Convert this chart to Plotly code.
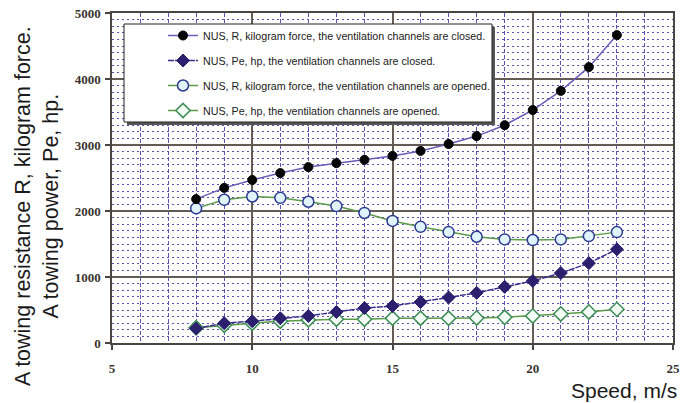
import plotly.graph_objects as go

# ---------------- data ----------------
speed = [8, 9, 10, 11, 12, 13, 14, 15, 16, 17, 18, 19, 20, 21, 22, 23]
r_closed = [2180, 2350, 2470, 2575, 2665, 2725, 2775, 2835, 2910, 3015, 3135, 3300, 3530, 3820, 4180, 4665]
pe_closed = [220, 300, 330, 375, 410, 470, 530, 560, 620, 690, 760, 850, 940, 1060, 1210, 1420]
r_opened = [2040, 2170, 2220, 2200, 2140, 2075, 1970, 1850, 1760, 1680, 1610, 1570, 1560, 1570, 1620, 1680]
pe_opened = [230, 270, 300, 330, 350, 360, 360, 375, 375, 375, 380, 390, 410, 440, 470, 510]

names = [
    "NUS, R, kilogram force, the ventilation channels are closed.",
    "NUS, Pe, hp, the ventilation channels are closed.",
    "NUS, R, kilogram force, the ventilation channels are opened.",
    "NUS, Pe, hp, the ventilation channels are opened.",
]
x_ticks = [5, 10, 15, 20, 25]
y_ticks = [0, 1000, 2000, 3000, 4000, 5000]
y_title = "A towing resistance R, kilogram force.<br>A towing power, Pe, hp."
x_title = "Speed, m/s"

# ---------------- layout helpers ----------------
W, H = 694, 403
L, R, T, B = 112, 673, 13, 343


def px_x(p):
    return (p - L) / (R - L)


def px_y(p):
    return (B - p) / (B - T)


fig = go.Figure()

styles = [
    dict(line=dict(color="#6a5cb8", width=1.5),
         marker=dict(symbol="circle", size=9, color="#050505", line=dict(color="#050505", width=1))),
    dict(line=dict(color="#3a2e8c", width=1.5, dash="6px,1px"),
         marker=dict(symbol="diamond", size=10, color="#2b1f6e", line=dict(color="#2b1f6e", width=1))),
    dict(line=dict(color="#5a9a48", width=1.5),
         marker=dict(symbol="circle", size=11, color="#e2f4fb", line=dict(color="#2d3c92", width=1.5))),
    dict(line=dict(color="#5a9a48", width=1.5),
         marker=dict(symbol="diamond", size=11, color="#f2fbf4", line=dict(color="#3c8c55", width=1.5))),
]
series = [r_closed, pe_closed, r_opened, pe_opened]
order = [3, 2, 1, 0]
for i in order:
    fig.add_trace(go.Scatter(
        x=speed, y=series[i], mode="lines+markers", name=names[i],
        legendgroup="g%d" % i, legendrank=i + 1,
        line=styles[i]["line"], marker=styles[i]["marker"],
    ))

grid_major = "#635c56"
grid_minor = "#5c52b2"

fig.update_xaxes(
    range=[5, 25], tickvals=x_ticks, ticktext=[str(v) for v in x_ticks],
    showgrid=True, gridcolor=grid_major, gridwidth=1.5,
    minor=dict(dtick=1, showgrid=True, gridcolor=grid_minor, griddash="4px,2px", gridwidth=1),
    showline=True, linecolor="#4a4540", linewidth=1.5, mirror=True,
    ticks="outside", ticklen=5, tickcolor="#4a4540", tickwidth=1.5,
    tickfont=dict(family="Liberation Serif", size=13, color="#3a3530", weight="bold"),
    ticklabelstandoff=8, zeroline=False, automargin=False,
)
fig.update_yaxes(
    range=[0, 5000], tickvals=y_ticks, ticktext=[str(v) for v in y_ticks],
    showgrid=True, gridcolor=grid_major, gridwidth=1.5,
    minor=dict(dtick=100, showgrid=True, gridcolor=grid_minor, griddash="2px,3px", gridwidth=1),
    showline=True, linecolor="#4a4540", linewidth=1.5, mirror=True,
    ticks="outside", ticklen=5, tickcolor="#4a4540", tickwidth=1.5,
    tickfont=dict(family="Liberation Serif", size=13, color="#3a3530", weight="bold"),
    ticklabelstandoff=2, zeroline=False, automargin=False,
)

# legend frame (shadow + box)
bx0, by0, bx1, by1 = 124, 24, 492, 122
fig.add_shape(type="rect", xref="paper", yref="paper", layer="above",
              x0=px_x(bx0 + 3), x1=px_x(bx1 + 3), y0=px_y(by1 + 3), y1=px_y(by0 + 3),
              fillcolor="#555555", line=dict(width=0))
fig.add_shape(type="rect", xref="paper", yref="paper", layer="above",
              x0=px_x(bx0), x1=px_x(bx1), y0=px_y(by1), y1=px_y(by0),
              fillcolor="white", line=dict(color="#222222", width=1))

fig.add_annotation(xref="paper", yref="paper", x=px_x(37), y=px_y(206),
                   text=y_title, textangle=-90, showarrow=False,
                   font=dict(family="Liberation Sans", size=21.5, color="#1a1a1a"),
                   xanchor="center", yanchor="middle")
fig.add_annotation(xref="paper", yref="paper", x=px_x(679), y=px_y(390),
                   text=x_title, showarrow=False,
                   font=dict(family="Liberation Sans", size=21, color="#1a1a1a"),
                   xanchor="right", yanchor="middle")

fig.update_layout(
    width=W, height=H,
    margin=dict(l=L, r=W - R, t=T, b=H - B),
    paper_bgcolor="white", plot_bgcolor="white",
    showlegend=True,
    legend=dict(x=px_x(163), y=px_y(21), xanchor="left", yanchor="top",
                bgcolor="rgba(0,0,0,0)", borderwidth=0,
                traceorder="grouped", tracegroupgap=6,
                font=dict(family="Liberation Sans", size=10.7, color="#1a1a1a")),
)

fig.write_html("out.html", config={"displayModeBar": False},
               post_script="document.body.style.margin='0';document.body.style.overflow='hidden';")
